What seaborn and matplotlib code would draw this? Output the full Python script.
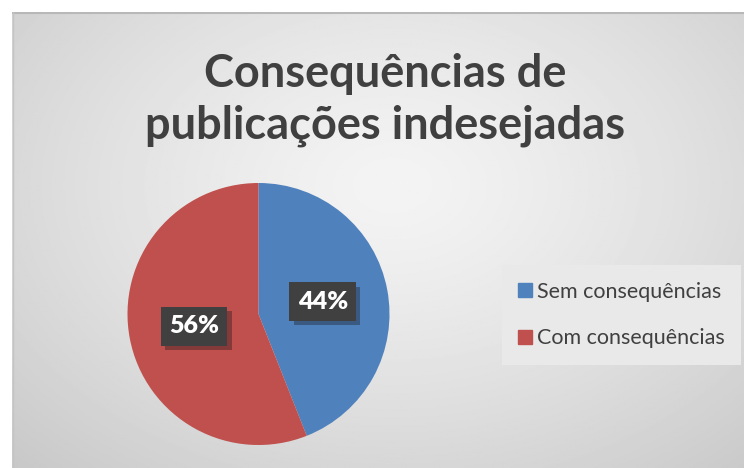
import numpy as np
import matplotlib
matplotlib.use("Agg")
import matplotlib.pyplot as plt
import matplotlib.patheffects as pe
from matplotlib.lines import Line2D
import seaborn as sns

# data
labels = ["Sem consequências", "Com consequências"]
values = [44, 56]
colors = ["#4F81BD", "#C0504D"]
title = "Consequências de\npublicações indesejadas"

sns.set_theme(style="white")
plt.rcParams['font.family'] = ['Lato', 'DejaVu Sans']

W, H = 744, 468
fig = plt.figure(figsize=(W / 100, H / 100), dpi=100)
fig.patch.set_facecolor("white")

# chart area with radial gray gradient
bg = fig.add_axes([12 / W, 0, (W - 12) / W, (H - 12) / H])
yy, xx = np.mgrid[0:1:300j, 0:1:480j]
d = np.sqrt(((xx - 0.52) / 0.75) ** 2 + ((yy - 0.38) / 0.85) ** 2)
d = np.clip(d, 0, 1)
img = 0.955 - 0.17 * d ** 1.3
bg.imshow(img, cmap="gray", vmin=0, vmax=1, aspect="auto", extent=[0, 1, 1, 0])
bg.set_xticks([])
bg.set_yticks([])
for s in bg.spines.values():
    s.set_visible(False)
bg.plot([0, 1], [0.003, 0.003], color="#b8b8b8", lw=1.5)
bg.plot([0.001, 0.001], [0, 1], color="#c4c4c4", lw=1)
bg.set_xlim(0, 1)
bg.set_ylim(1, 0)

fig.text(385 / W, 1 - 100 / H, title, ha="center", va="center", fontsize=32.5,
         fontweight="bold", color="#404040", linespacing=1.3)

# pie
cx, cy, r = 258.5, 314, 131
ax = fig.add_axes([(cx - r) / W, (H - cy - r) / H, 2 * r / W, 2 * r / H])
wedges, texts, autotexts = ax.pie(values, colors=colors, startangle=90, counterclock=False,
                                  autopct="%1.0f%%", pctdistance=0.5,
                                  wedgeprops=dict(linewidth=0),
                                  textprops=dict(color="white", fontsize=18, fontweight="heavy"))
ax.set_xlim(-1, 1)
ax.set_ylim(-1, 1)
ax.set_aspect("equal")
ax.patch.set_alpha(0)
for t in autotexts:
    t.set_bbox(dict(boxstyle="square,pad=0.33", fc="#404040", ec="none"))
    t.get_bbox_patch().set_path_effects([pe.SimplePatchShadow(offset=(3, -3), alpha=0.35), pe.Normal()])

handles = [Line2D([], [], marker="s", linestyle="none", markersize=10, color=c) for c in colors]
leg = fig.legend(handles, labels, loc="center", bbox_to_anchor=(621.5 / W, 1 - 315 / H),
                 fontsize=15.5, frameon=True, fancybox=False, handletextpad=0.2,
                 labelspacing=1.25, borderpad=0.75, handlelength=0.7, borderaxespad=0,
                 labelcolor="#404040")
leg.get_frame().set_facecolor("#e9e9e9")
leg.get_frame().set_edgecolor("none")
leg.get_frame().set_alpha(1)

fig.savefig("out.png", dpi=100)
